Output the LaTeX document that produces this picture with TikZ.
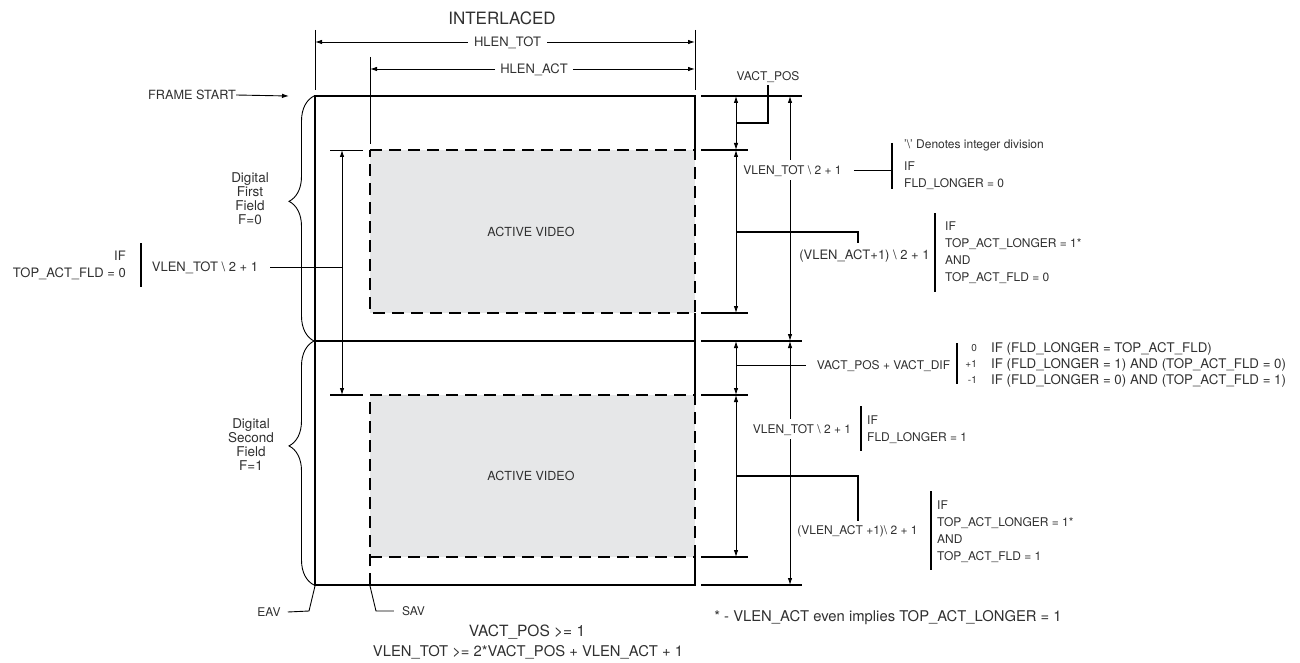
\documentclass[tikz,border=0pt]{standalone}
\usepackage{fontspec}
\setmainfont{TeX Gyre Heros}
\usetikzlibrary{arrows.meta,decorations.pathreplacing}
\definecolor{actgray}{HTML}{E6E7E8}
\definecolor{txt}{HTML}{303030}

\begin{document}
\begin{tikzpicture}[x=1pt, y=-1pt, >={Latex[length=7pt,width=4.5pt]},
  t10/.style={font=\fontsize{10}{12}\selectfont, text height=7.2pt, text depth=0pt, inner sep=0pt, text=txt},
  t12/.style={font=\fontsize{12}{14}\selectfont, text height=8.6pt, text depth=0pt, inner sep=0pt, text=txt},
  t13/.style={font=\fontsize{13}{15}\selectfont, text height=9.4pt, text depth=0pt, inner sep=0pt, text=txt},
  t15/.style={font=\fontsize{14.8}{17}\selectfont, text height=10.7pt, text depth=0pt, inner sep=0pt, text=txt},
  t17/.style={font=\fontsize{17}{20}\selectfont, text height=12.2pt, text depth=0pt, inner sep=0pt, text=txt},
  brtxt/.style={font=\fontsize{13.5}{14}\selectfont, align=center, inner sep=0pt, text=txt},
  cover/.style={fill=white, inner xsep=1pt, inner ysep=6pt},
  frm/.style={line width=1.6pt},
  dsh/.style={line width=1.6pt, dash pattern=on 12pt off 7pt},
  dimln/.style={<->, line width=0.9pt},
  extln/.style={line width=1.3pt},
  thinln/.style={line width=0.9pt},
  barln/.style={line width=1.1pt},
  brc/.style={decorate, decoration={brace, amplitude=25pt, aspect=#1}, line width=0.9pt},
]
\useasboundingbox (0,0) rectangle (1300,663);

% active video areas
\fill[actgray] (370,150) rectangle (695,313);
\fill[actgray] (370,395) rectangle (695,557);
\node[t12, font=\fontsize{12.5}{14}\selectfont] (av1) at (531,232) {ACTIVE VIDEO};
\node[t12, font=\fontsize{12.5}{14}\selectfont] (av2) at (531,476) {ACTIVE VIDEO};

% frame
\draw[frm] (695,150) -- (695,96) -- (315,96) -- (315,585) -- (695,585) -- (695,557);
\draw[frm] (315,341) -- (695,341);
\draw[frm] (695,313) -- (695,395);
\draw[dsh] (370,150) -- (695,150) -- (695,313) -- (370,313) -- cycle;
\draw[dsh] (370,585) -- (370,395) -- (695,395) -- (695,557);
\draw[dsh] (370,557) -- (695,557);

% horizontal dimensions
\node[t17] (title) at (502,18) {INTERLACED};
\coordinate (hl) at (315,30);
\coordinate (hr) at (695,30);
\coordinate (al) at (370,57);
\draw[thinln] (hl) -- (315,90);
\draw[thinln] (hr) -- (695,90);
\draw[thinln] (al) -- (370,144);
\node[t13, inner xsep=6pt] (htot) at (507.5,42) {HLEN\_TOT};
\draw[->, thinln] (htot) -- (htot -| hl);
\draw[->, thinln] (htot) -- (htot -| hr);
\node[t13, inner xsep=5pt] (hact) at (534,69) {HLEN\_ACT};
\draw[->, thinln] (hact) -- (hact -| al);
\draw[->, thinln] (hact) -- (hact -| hr);

% frame start and braces
\node[t12, font=\fontsize{12.7}{14}\selectfont] (fs) at (192,95) {FRAME START};
\draw[->, thinln] (fs.east) -- (289,96);
\draw[brc=0.57] (314,341) -- (314,96);
\draw[brc=0.57] (314,585) -- (314,341);
\node[brtxt] (ff) at (250,199) {Digital\\First\\Field\\F=0};
\node[brtxt] (sf) at (251,445) {Digital\\Second\\Field\\F=1};

% left dimension
\draw[thinln] (330,150) -- (363,150);
\draw[extln] (330,395) -- (363,395);
\draw[dimln] (342,150) -- (342,395);
\node[t13] (vtl) at (205,267) {VLEN\_TOT \textbackslash{} 2 + 1};
\draw[thinln, shorten <=12pt] (vtl.east) -- (342,267);
\draw[barln] (141,243) -- (141,287);
\node[t13, anchor=east] (cl1) at (126,256) {IF};
\node[t13, anchor=east] (cl2) at (126,273) {TOP\_ACT\_FLD = 0};

% right extension lines
\draw[extln] (701,96) -- (802,96);
\draw[extln] (701,150) -- (748,150);
\draw[extln] (701,313) -- (748,313);
\draw[extln] (701,341) -- (802,341);
\draw[extln] (701,395) -- (748,395);
\draw[extln] (701,557) -- (748,557);
\draw[extln] (701,585) -- (802,585);

% right dimensions
\draw[dimln] (736,96) -- (736,150);
\draw[dimln] (736,150) -- (736,313);
\draw[dimln] (790,96) -- (790,341);
\draw[dimln] (736,341) -- (736,395);
\draw[dimln] (736,395) -- (736,557);
\draw[dimln] (790,341) -- (790,585);

% VACT_POS
\node[t12] (vpos) at (768,76) {VACT\_POS};
\draw[extln, shorten <=5pt] (vpos.south) |- (736,123);

% first field total
\node[t12, cover] (vt1) at (792.5,170) {VLEN\_TOT \textbackslash{} 2 + 1};
\draw[thinln, shorten <=11pt] (vt1.east) -- (892,170);
\draw[barln] (892,143) -- (892,189);
\node[t12, anchor=west] (note) at (904,144) {'\textbackslash' Denotes integer division};
\node[t12, anchor=west] (c1a) at (904,166) {IF};
\node[t12, anchor=west] (c1b) at (904,183) {FLD\_LONGER = 0};

% first active
\node[t13] (va1) at (864.5,255) {(VLEN\_ACT+1) \textbackslash{} 2 + 1};
\coordinate (k1) at (858,232);
\draw[extln] (736,232) -- (k1) -- (k1 |- 243,243);
\draw[barln] (935,213) -- (935,292);
\node[t12, anchor=west] (c2a) at (945,226) {IF};
\node[t12, anchor=west] (c2b) at (945,243) {TOP\_ACT\_LONGER = 1*};
\node[t12, anchor=west] (c2c) at (945,260) {AND};
\node[t12, anchor=west] (c2d) at (945,277) {TOP\_ACT\_FLD = 0};

% vertical blanking difference
\node[t12] (vd) at (883.5,365) {VACT\_POS + VACT\_DIF};
\draw[thinln, shorten <=11pt] (vd.west) -- (736,365);
\draw[barln] (957,343) -- (957,384);
\node[t10, anchor=east] (n0) at (977,348) {0};
\node[t10, anchor=east] (n1) at (977,364) {+1};
\node[t10, anchor=east] (n2) at (977,380) {-1};
\node[t13, anchor=west, font=\fontsize{13.3}{15}\selectfont] (d0) at (991,348) {IF (FLD\_LONGER = TOP\_ACT\_FLD)};
\node[t13, anchor=west, font=\fontsize{13.3}{15}\selectfont] (d1) at (991,364) {IF (FLD\_LONGER = 1) AND (TOP\_ACT\_FLD = 0)};
\node[t13, anchor=west, font=\fontsize{13.3}{15}\selectfont] (d2) at (991,380) {IF (FLD\_LONGER = 0) AND (TOP\_ACT\_FLD = 1)};

% second field total
\node[t12, cover] (vt2) at (802,429) {VLEN\_TOT \textbackslash{} 2 + 1};
\draw[barln] (861,406) -- (861,451);
\node[t12, anchor=west] (c3a) at (867,420) {IF};
\node[t12, anchor=west] (c3b) at (867,437) {FLD\_LONGER = 1};

% second active
\node[t12] (va2) at (857.5,530) {(VLEN\_ACT +1)\textbackslash{} 2 + 1};
\coordinate (k2) at (858,476);
\draw[extln] (736,476) -- (k2) -- (k2 |- 521,521);
\draw[barln] (931,491) -- (931,570);
\node[t12, anchor=west] (c4a) at (937,505) {IF};
\node[t12, anchor=west] (c4b) at (937,522.5) {TOP\_ACT\_LONGER = 1*};
\node[t12, anchor=west] (c4c) at (937,539) {AND};
\node[t12, anchor=west] (c4d) at (937,556) {TOP\_ACT\_FLD = 1};

% EAV / SAV
\node[t12] (eav) at (269,612) {EAV};
\draw[thinln] (eav.east) ++(7,0) -- (309,611) -- (315,586);
\node[t12] (sav) at (413.5,611) {SAV};
\draw[thinln] (370,586) -- (376,611) -- ([xshift=-8pt]sav.west);

% notes
\node[t15, font=\fontsize{15.5}{17}\selectfont] (cond1) at (527,631) {VACT\_POS >= 1};
\node[t15] (cond2) at (528,651) {VLEN\_TOT >= 2*VACT\_POS + VLEN\_ACT + 1};
\node[t15] (foot) at (888,616) {* - VLEN\_ACT even implies TOP\_ACT\_LONGER = 1};
\end{tikzpicture}
\end{document}
